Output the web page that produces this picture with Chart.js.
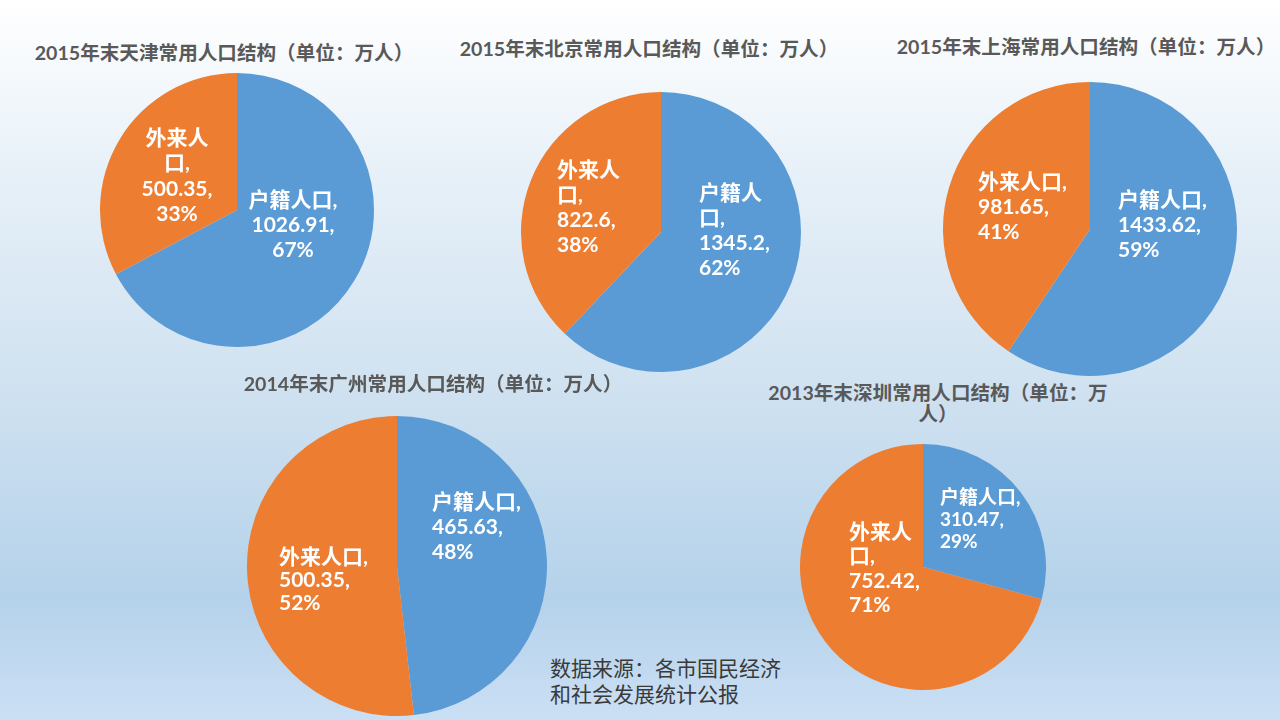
<!DOCTYPE html>
<html><head><meta charset="utf-8">
<script src="https://cdn.jsdelivr.net/npm/chart.js@4.4.0/dist/chart.umd.min.js"></script>
<style>
html,body{margin:0;padding:0;}
body{width:1280px;height:720px;overflow:hidden;position:relative;
background:linear-gradient(to bottom,#ffffff 0%,#e6f0f8 25%,#cfe1f0 55%,#b4d2ea 83%,#cbdff4 100%);
font-family:"Lato","Noto Sans CJK SC",sans-serif;}
.t{position:absolute;font-weight:bold;font-size:19.6px;color:#595959;white-space:nowrap;transform:translate(-50%,-50%);line-height:21px;text-align:center;}
canvas{position:absolute;}
.src{position:absolute;left:550px;top:654px;font-size:21px;color:#3a3a3a;line-height:26px;font-family:"Noto Sans CJK SC",sans-serif;white-space:nowrap;}
</style></head><body>
<div class="src">数据来源：各市国民经济<br>和社会发展统计公报</div>
<script>
// ---- data ----
const categories = ["户籍人口", "外来人口"];
const titles = [
  "2015年末天津常用人口结构（单位：万人）",
  "2015年末北京常用人口结构（单位：万人）",
  "2015年末上海常用人口结构（单位：万人）",
  "2014年末广州常用人口结构（单位：万人）",
  "2013年末深圳常用人口结构（单位：万人）"
];
const tianjin   = [1026.91, 500.35];
const beijing   = [1345.2, 822.6];
const shanghai  = [1433.62, 981.65];
const guangzhou = [465.63, 500.35];
const shenzhen  = [310.47, 752.42];
const seriesList = [tianjin, beijing, shanghai, guangzhou, shenzhen];
const colors = ["#5b9bd5", "#ed7d31"];

// ---- layout (positions / styles only) ----
const layout = [
  {cx:237, cy:210, r:137, tx:224, ty:52, tCut:null,
   labels:[{dx:56,dy:-10,align:"center",wrap:100,size:21,lh:25},{dx:-60,dy:-72,align:"center",wrap:72,size:21,lh:25.5}]},
  {cx:661, cy:232, r:140, tx:649, ty:48, tCut:null,
   labels:[{dx:38,dy:-39,align:"left",wrap:72,size:21,lh:25},{dx:-104,dy:-62,align:"left",wrap:72,size:21,lh:25}]},
  {cx:1090, cy:229, r:147, tx:1086, ty:46, tCut:null,
   labels:[{dx:28,dy:-29,align:"left",wrap:100,size:21,lh:25},{dx:-112,dy:-47,align:"left",wrap:100,size:21,lh:25}]},
  {cx:397, cy:566, r:150, tx:433, ty:383, tCut:null,
   labels:[{dx:35,dy:-64,align:"left",wrap:100,size:21,lh:25},{dx:-118,dy:-9,align:"left",wrap:100,size:21,lh:23}]},
  {cx:923, cy:567, r:123, tx:938, ty:403, tCut:19,
   labels:[{dx:17,dy:-69,align:"left",wrap:100,size:19,lh:22},{dx:-74,dy:-35,align:"left",wrap:72,size:21,lh:24.5}]}
];

function wrapName(ctx, text, maxW){
  const chars = Array.from(text);
  const toks = [];
  chars.forEach(c => { if (c === "," && toks.length) toks[toks.length-1] += c; else toks.push(c); });
  const lines = []; let cur = "";
  toks.forEach(t => {
    if (cur && ctx.measureText(cur + t).width > maxW) { lines.push(cur); cur = t; }
    else cur += t;
  });
  if (cur) lines.push(cur);
  return lines;
}

const labelPlugin = {
  id: "pieLabels",
  afterDatasetsDraw(chart, args, opts) {
    const ctx = chart.ctx;
    const meta = chart.getDatasetMeta(0);
    const vals = chart.data.datasets[0].data;
    const total = vals.reduce((a,b)=>a+b,0);
    meta.data.forEach((arc, i) => {
      const L = opts.labels[i];
      ctx.save();
      ctx.font = "bold " + L.size + "px Lato, 'Noto Sans CJK SC', sans-serif";
      ctx.fillStyle = "#ffffff";
      ctx.textBaseline = "middle";
      ctx.textAlign = L.align;
      const lines = wrapName(ctx, chart.data.labels[i] + ",", L.wrap);
      lines.push(String(vals[i]) + ",");
      lines.push(Math.round(vals[i] / total * 100) + "%");
      lines.forEach((ln, k) => ctx.fillText(ln, arc.x + L.dx, arc.y + L.dy + k * L.lh));
      ctx.restore();
    });
  }
};

seriesList.forEach((vals, idx) => {
  const Lo = layout[idx];
  const t = document.createElement("div");
  t.className = "t";
  const title = titles[idx];
  if (Lo.tCut) {
    t.innerHTML = title.slice(0, Lo.tCut) + "<br>" + title.slice(Lo.tCut);
  } else t.textContent = title;
  t.style.left = Lo.tx + "px"; t.style.top = Lo.ty + "px";
  document.body.appendChild(t);

  const c = document.createElement("canvas");
  c.width = 2 * Lo.r; c.height = 2 * Lo.r;
  c.style.left = (Lo.cx - Lo.r) + "px"; c.style.top = (Lo.cy - Lo.r) + "px";
  document.body.appendChild(c);
  new Chart(c, {
    type: "pie",
    data: { labels: categories, datasets: [{ data: vals, backgroundColor: colors, borderWidth: 0 }] },
    options: {
      responsive: false, animation: false,
      layout: { padding: 0 },
      plugins: { legend: { display: false }, tooltip: { enabled: false }, pieLabels: { labels: Lo.labels } }
    },
    plugins: [labelPlugin]
  });
});
</script>
</body></html>
